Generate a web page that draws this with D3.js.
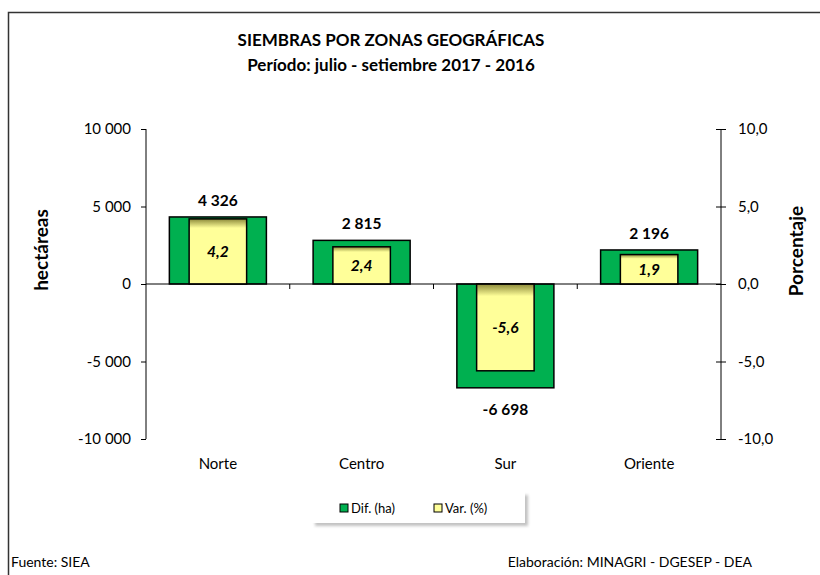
<!DOCTYPE html>
<html>
<head>
<meta charset="utf-8">
<script src="https://cdn.jsdelivr.net/npm/d3@7"></script>
<style>
  body { margin: 0; background: #fff; }
  svg { display: block; font-family: Lato, "Open Sans", sans-serif; }
</style>
</head>
<body>
<svg id="chart" width="820" height="575"></svg>
<script>
// data
var zonas = ["Norte", "Centro", "Sur", "Oriente"];
var difHa = [4326, 2815, -6698, 2196];
var varPct = [4.2, 2.4, -5.6, 1.9];
var leftTicks = [10000, 5000, 0, -5000, -10000];
var rightTicks = [10, 5, 0, -5, -10];
var seriesNames = ["Dif. (ha)", "Var. (%)"];

var svg = d3.select("#chart");
var W = 820, H = 575;
var plotL = 146, plotR = 721, plotT = 129, plotB = 439;

// frame
svg.append("path")
    .attr("d", "M8.5," + (H + 2) + "V12.5H" + (W + 2))
    .attr("fill", "none")
    .attr("stroke", "#333")
    .attr("stroke-width", 1.5);

// titles
svg.append("text").attr("x", 391).attr("y", 46)
    .attr("text-anchor", "middle").style("font-weight", "bold").style("font-size", "17px")
    .text("SIEMBRAS POR ZONAS GEOGRÁFICAS");
svg.append("text").attr("x", 391).attr("y", 71)
    .attr("text-anchor", "middle").style("font-weight", "bold").style("font-size", "17px")
    .text("Período: julio - setiembre 2017 - 2016");

// scales
var x = d3.scaleBand().domain(zonas).range([plotL, plotR]);
var yL = d3.scaleLinear().domain([-10000, 10000]).range([plotB, plotT]);
var yR = d3.scaleLinear().domain([-10, 10]).range([plotB, plotT]);

var fmtMiles = function(v){ return d3.format(",")(v).replace(/,/g, " ").replace("−", "-"); };
var fmtPct = function(v){ return d3.format(".1f")(v).replace(".", ",").replace("−", "-"); };

// left axis
var axL = svg.append("g").attr("transform", "translate(" + plotL + ",0)")
    .call(d3.axisLeft(yL).tickValues(leftTicks).tickSize(5).tickPadding(10).tickFormat(fmtMiles));
axL.select(".domain").attr("d", "M0," + plotT + "V" + plotB).attr("stroke", "#000");
axL.selectAll("text").style("font-size", "15px").style("font-family", "Lato, sans-serif").attr("fill", "#000");

// right axis with crossing ticks
var axR = svg.append("g").attr("transform", "translate(" + plotR + ",0)")
    .call(d3.axisRight(yR).tickValues(rightTicks).tickSize(5).tickPadding(12).tickFormat(fmtPct));
axR.select(".domain").attr("d", "M0," + plotT + "V" + plotB).attr("stroke", "#000");
axR.selectAll(".tick line").attr("x1", -5).attr("x2", 5);
axR.selectAll("text").style("font-size", "15px").style("font-family", "Lato, sans-serif").attr("fill", "#000");

// axis titles
svg.append("text")
    .attr("transform", "translate(48," + 250 + ") rotate(-90)")
    .attr("text-anchor", "middle").style("font-weight", "bold").style("font-size", "19px")
    .text("hectáreas");
svg.append("text")
    .attr("transform", "translate(803," + 251 + ") rotate(-90)")
    .attr("text-anchor", "middle").style("font-weight", "bold").style("font-size", "19px")
    .text("Porcentaje");

// gradient for the yellow bars
var defs = svg.append("defs");
var gUp = defs.append("linearGradient").attr("id", "yelUp").attr("x1", 0).attr("x2", 0).attr("y1", 0).attr("y2", 1);
gUp.append("stop").attr("offset", 0).attr("stop-color", "#8c8a3a");
gUp.append("stop").attr("offset", 0.14).attr("stop-color", "#ffff99");
gUp.append("stop").attr("offset", 1).attr("stop-color", "#ffff99");

var data = zonas.map(function(z, i){ return { key: z, dif: difHa[i], pct: varPct[i] }; });
var bw = x.bandwidth();
var greenW = bw * 0.675, yelW = bw * 0.40;

var cg = svg.append("g");

// green bars (Dif.)
cg.selectAll(".dif").data(data).enter().append("rect")
    .attr("class", "dif")
    .attr("x", d => x(d.key) + (bw - greenW) / 2)
    .attr("width", greenW)
    .attr("y", d => yL(Math.max(0, d.dif)))
    .attr("height", d => Math.abs(yL(d.dif) - yL(0)))
    .attr("fill", "#00b050").attr("stroke", "#000").attr("stroke-width", 1.5);

// yellow bars (Var.)
cg.selectAll(".var").data(data).enter().append("rect")
    .attr("class", "var")
    .attr("x", d => x(d.key) + (bw - yelW) / 2)
    .attr("width", yelW)
    .attr("y", d => yR(Math.max(0, d.pct)))
    .attr("height", d => Math.abs(yR(d.pct) - yR(0)))
    .attr("fill", "url(#yelUp)").attr("stroke", "#000").attr("stroke-width", 1.5);

// zero line with category ticks
svg.append("line").attr("x1", plotL).attr("x2", plotR).attr("y1", yL(0)).attr("y2", yL(0))
    .attr("stroke", "#000");
svg.selectAll(".ctick").data(zonas.slice(1)).enter().append("line")
    .attr("x1", d => x(d)).attr("x2", d => x(d))
    .attr("y1", yL(0)).attr("y2", yL(0) + 5).attr("stroke", "#000");

// category labels
svg.selectAll(".cat").data(zonas).enter().append("text")
    .attr("x", d => x(d) + bw / 2).attr("y", 469)
    .attr("text-anchor", "middle").style("font-size", "15px")
    .text(d => d);

// dif labels
svg.selectAll(".difLbl").data(data).enter().append("text")
    .attr("x", d => x(d.key) + bw / 2)
    .attr("y", d => d.dif >= 0 ? yL(d.dif) - 11 : yL(d.dif) + 27)
    .attr("text-anchor", "middle").style("font-weight", "bold").style("font-size", "15.5px")
    .text(d => fmtMiles(d.dif));

// var labels
svg.selectAll(".varLbl").data(data).enter().append("text")
    .attr("x", d => x(d.key) + bw / 2)
    .attr("y", d => (yR(d.pct) + yR(0)) / 2 + 5.5)
    .attr("text-anchor", "middle").style("font-weight", "bold").style("font-style", "italic").style("font-size", "15.5px")
    .text(d => fmtPct(d.pct));

// legend
var lg = svg.append("g").attr("transform", "translate(312,492)");
lg.append("rect").attr("x", 3).attr("y", 3).attr("width", 213).attr("height", 31).attr("fill", "#999").attr("opacity", 0.6)
    .style("filter", "blur(1.5px)");
lg.append("rect").attr("width", 213).attr("height", 31).attr("fill", "#fff");
var legColors = ["#00b050", "#ffff99"];
var legX = [28, 122];
seriesNames.forEach(function(n, i){
    lg.append("rect").attr("x", legX[i]).attr("y", 12).attr("width", 8).attr("height", 8)
        .attr("fill", legColors[i]).attr("stroke", "#000").attr("stroke-width", 1);
    lg.append("text").attr("x", legX[i] + 11).attr("y", 21).style("font-size", "13px").text(n);
});

// footer
svg.append("text").attr("x", 11).attr("y", 567).style("font-size", "14px").text("Fuente: SIEA");
svg.append("text").attr("x", 752).attr("y", 567).attr("text-anchor", "end").style("font-size", "14px")
    .text("Elaboración: MINAGRI - DGESEP - DEA");
</script>
</body>
</html>
